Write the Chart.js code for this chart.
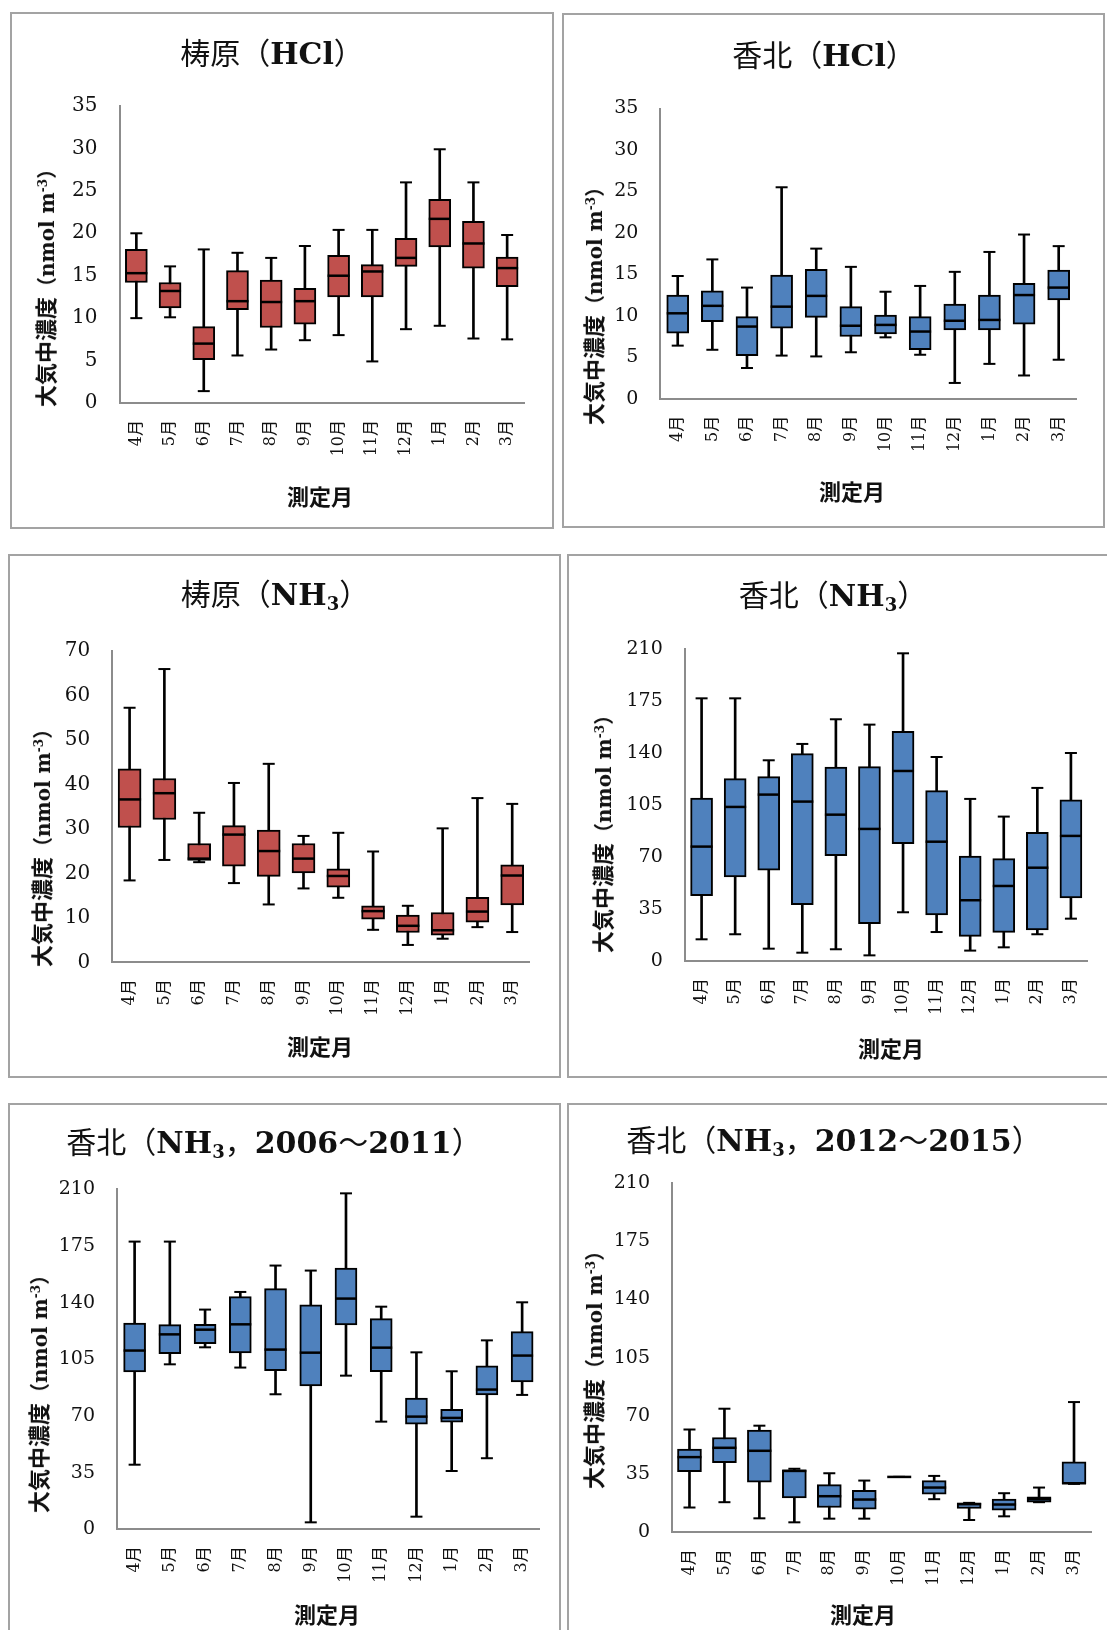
<!DOCTYPE html>
<html>
<head>
<meta charset="utf-8">
<script src="https://cdn.jsdelivr.net/npm/chart.js@4.4.1/dist/chart.umd.min.js"></script>
<style>
  html, body { margin: 0; padding: 0; background: #fff; }
  body { position: relative; width: 1107px; height: 1630px; overflow: hidden; }
  .panel { position: absolute; border: 2px solid #a3a3a3; box-sizing: border-box; }
  .panel canvas { position: absolute; left: 0; top: 0; }
  .lbl { position: absolute; white-space: nowrap; line-height: 1; color: #111; }
  .title { transform: translate(-50%, -50%); font-size: 30px; font-family: "DejaVu Serif", "Noto Sans CJK JP", serif; }
  .title .jp { font-family: "Noto Sans CJK JP"; font-weight: 400; }
  .title b { font-weight: bold; }
  .title sub { font-size: 0.6em; vertical-align: -0.3em; }
  .ytitle { transform: translate(-50%, -50%) rotate(-90deg); font-size: 22px; font-family: "Noto Sans CJK JP"; font-weight: bold; }
  .ytitle .lat { font-family: "DejaVu Serif", "Noto Sans CJK JP", serif; font-size: 20px; }
  .ytitle sup { font-size: 0.6em; vertical-align: 0.6em; }
  .xtitle { transform: translate(-50%, -50%); font-size: 22px; font-family: "Noto Sans CJK JP"; font-weight: bold; }
</style>
</head>
<body>

<div class="panel" style="left:10px;top:12px;width:544px;height:517px"><canvas id="c1"></canvas></div>
<div class="panel" style="left:562px;top:13px;width:543px;height:515px"><canvas id="c2"></canvas></div>
<div class="panel" style="left:8px;top:554px;width:553px;height:524px"><canvas id="c3"></canvas></div>
<div class="panel" style="left:567px;top:554px;width:546px;height:524px"><canvas id="c4"></canvas></div>
<div class="panel" style="left:8px;top:1103px;width:553px;height:537px"><canvas id="c5"></canvas></div>
<div class="panel" style="left:567px;top:1103px;width:546px;height:537px"><canvas id="c6"></canvas></div>

<div class="lbl title" style="left:272px;top:52px"><span class="jp">梼原（</span><b>HCl</b><span class="jp">）</span></div>
<div class="lbl title" style="left:824px;top:54px"><span class="jp">香北（</span><b>HCl</b><span class="jp">）</span></div>
<div class="lbl title" style="left:275px;top:595px"><span class="jp">梼原（</span><b>NH<sub>3</sub></b><span class="jp">）</span></div>
<div class="lbl title" style="left:833px;top:596px"><span class="jp">香北（</span><b>NH<sub>3</sub></b><span class="jp">）</span></div>
<div class="lbl title" style="left:274px;top:1143px"><span class="jp">香北（</span><b>NH<sub>3</sub></b><span class="jp">，</span><b>2006</b><span class="jp">～</span><b>2011</b><span class="jp">）</span></div>
<div class="lbl title" style="left:834px;top:1141px"><span class="jp">香北（</span><b>NH<sub>3</sub></b><span class="jp">，</span><b>2012</b><span class="jp">～</span><b>2015</b><span class="jp">）</span></div>

<div class="lbl ytitle" style="left:45px;top:283px">大気中濃度<span class="lat">（nmol m<sup>-3</sup>）</span></div>
<div class="lbl ytitle" style="left:593px;top:301px">大気中濃度<span class="lat">（nmol m<sup>-3</sup>）</span></div>
<div class="lbl ytitle" style="left:41px;top:843px">大気中濃度<span class="lat">（nmol m<sup>-3</sup>）</span></div>
<div class="lbl ytitle" style="left:602px;top:829px">大気中濃度<span class="lat">（nmol m<sup>-3</sup>）</span></div>
<div class="lbl ytitle" style="left:38px;top:1389px">大気中濃度<span class="lat">（nmol m<sup>-3</sup>）</span></div>
<div class="lbl ytitle" style="left:593px;top:1365px">大気中濃度<span class="lat">（nmol m<sup>-3</sup>）</span></div>

<div class="lbl xtitle" style="left:320px;top:495px">測定月</div>
<div class="lbl xtitle" style="left:852px;top:490px">測定月</div>
<div class="lbl xtitle" style="left:320px;top:1045px">測定月</div>
<div class="lbl xtitle" style="left:891px;top:1047px">測定月</div>
<div class="lbl xtitle" style="left:327px;top:1613px">測定月</div>
<div class="lbl xtitle" style="left:863px;top:1613px">測定月</div>

<script>
const months = ['4月', '5月', '6月', '7月', '8月', '9月', '10月', '11月', '12月', '1月', '2月', '3月'];

// 梼原 HCl
const yusuharaHclMin = [10.0, 10.1, 1.4, 5.6, 6.3, 7.4, 8.0, 4.9, 8.7, 9.1, 7.6, 7.5];
const yusuharaHclQ1  = [14.2, 11.2, 5.1, 11.0, 8.9, 9.3, 12.5, 12.5, 16.1, 18.4, 15.9, 13.7];
const yusuharaHclMed = [15.3, 13.2, 7.0, 12.0, 11.9, 12.0, 15.0, 15.5, 17.1, 21.7, 18.8, 15.9];
const yusuharaHclQ3  = [18.1, 14.2, 9.0, 15.6, 14.5, 13.5, 17.4, 16.3, 19.4, 24.0, 21.4, 17.2];
const yusuharaHclMax = [20.0, 16.1, 18.1, 17.7, 17.1, 18.5, 20.4, 20.4, 26.0, 29.9, 26.0, 19.8];

// 香北 HCl
const kahokuHclMin = [6.4, 5.9, 3.7, 5.2, 5.1, 5.6, 7.4, 5.3, 1.9, 4.2, 2.8, 4.7];
const kahokuHclQ1  = [7.9, 9.3, 5.2, 8.5, 9.8, 7.5, 7.8, 5.9, 8.3, 8.3, 9.0, 11.9];
const kahokuHclMed = [10.3, 11.2, 8.7, 11.1, 12.4, 8.8, 8.9, 8.1, 9.4, 9.5, 12.5, 13.4];
const kahokuHclQ3  = [12.5, 13.0, 9.9, 14.9, 15.6, 11.1, 10.1, 9.9, 11.4, 12.5, 13.9, 15.5];
const kahokuHclMax = [14.8, 16.8, 13.4, 25.5, 18.1, 15.9, 12.9, 13.6, 15.3, 17.7, 19.8, 18.4];

// 梼原 NH3
const yusuharaNh3Min = [18.4, 23.0, 22.5, 17.8, 13.0, 16.6, 14.5, 7.3, 3.9, 5.3, 7.9, 6.8];
const yusuharaNh3Q1  = [30.3, 32.1, 22.9, 21.6, 19.3, 20.1, 16.9, 9.7, 6.7, 6.1, 9.0, 12.9];
const yusuharaNh3Med = [36.6, 38.0, 23.3, 28.7, 25.0, 23.3, 19.4, 11.5, 8.2, 7.2, 11.4, 19.5];
const yusuharaNh3Q3  = [43.5, 41.3, 26.7, 30.7, 29.7, 26.7, 21.0, 12.7, 10.6, 11.2, 14.6, 21.9];
const yusuharaNh3Max = [57.2, 65.9, 33.6, 40.3, 44.6, 28.4, 29.1, 24.9, 12.7, 30.1, 36.9, 35.6];

// 香北 NH3（全期間）
const kahokuNh3Min = [14.8, 18.2, 8.5, 5.8, 8.1, 4.0, 33.0, 19.7, 7.2, 9.4, 18.2, 28.7];
const kahokuNh3Q1  = [44.2, 56.8, 61.3, 38.1, 71.1, 25.4, 79.2, 31.2, 16.8, 19.5, 21.1, 42.6];
const kahokuNh3Med = [77.2, 103.9, 112.2, 107.5, 98.7, 89.1, 128.1, 80.5, 41.1, 50.7, 63.0, 84.4];
const kahokuNh3Q3  = [109.9, 123.0, 124.3, 139.8, 130.8, 131.0, 154.8, 114.9, 70.9, 69.1, 86.8, 108.6];
const kahokuNh3Max = [177.0, 177.0, 135.3, 146.3, 162.9, 159.3, 207.3, 137.5, 109.3, 97.4, 116.7, 140.2];

// 香北 NH3 2006～2011
const kahokuEarlyMin = [39.9, 101.9, 112.4, 99.9, 83.4, 4.3, 94.9, 66.5, 7.8, 36.0, 43.9, 83.0];
const kahokuEarlyQ1  = [97.2, 108.5, 114.7, 108.9, 98.0, 88.5, 126.2, 97.4, 64.9, 66.1, 83.0, 91.0];
const kahokuEarlyMed = [110.4, 120.4, 123.3, 126.6, 111.0, 109.1, 142.5, 112.2, 69.6, 68.8, 86.3, 107.3];
const kahokuEarlyQ3  = [127.4, 126.4, 126.6, 143.7, 148.7, 138.6, 161.4, 130.1, 81.1, 74.1, 100.9, 122.1];
const kahokuEarlyMax = [177.7, 177.7, 135.7, 146.6, 162.9, 159.8, 207.5, 137.5, 109.3, 97.6, 116.7, 140.2];

// 香北 NH3 2012～2015
const kahokuLateMin = [14.9, 18.1, 8.4, 6.0, 8.2, 8.2, 33.3, 19.9, 7.4, 9.6, 18.1, 29.1];
const kahokuLateQ1  = [36.5, 41.8, 30.1, 20.7, 14.9, 13.9, 33.3, 22.9, 14.3, 13.3, 18.1, 29.1];
const kahokuLateMed = [45.2, 50.8, 49.0, 36.9, 21.7, 19.7, 33.3, 26.9, 16.9, 16.7, 19.9, 29.5];
const kahokuLateQ3  = [50.0, 57.0, 61.4, 37.5, 28.7, 25.3, 33.3, 31.1, 17.7, 19.9, 21.3, 42.4];
const kahokuLateMax = [61.8, 74.3, 64.1, 38.2, 35.5, 31.1, 33.3, 33.9, 17.7, 23.5, 26.9, 78.3];

const RED = '#c0504d';
const BLUE = '#4f81bd';
const AXIS_W = 62;   // y軸の幅（目盛ラベル分）
const AXIS_H = 60;   // x軸の高さ（月ラベル分）
const serif = '"DejaVu Serif", "Noto Sans CJK JP", serif';

// 箱ひげ：ひげ→箱→中央値・端の順に重ねる
function boxSets(lo, q1, med, q3, hi, fill, boxW) {
    const tick = { type: 'line', showLine: false, pointStyle: 'line', pointBorderColor: '#000', pointBackgroundColor: '#000', order: 1, clip: false };
    return [
        { type: 'bar', data: lo.map((v, i) => [v, hi[i]]), backgroundColor: '#000', barThickness: 2, grouped: false, order: 3 },
        { type: 'bar', data: q1.map((v, i) => [v, q3[i]]), backgroundColor: fill, borderColor: '#000', borderWidth: 2, borderSkipped: false, barThickness: boxW, grouped: false, order: 2 },
        Object.assign({ data: med, pointRadius: boxW / 2, pointHoverRadius: boxW / 2, pointBorderWidth: 2.5 }, tick),
        Object.assign({ data: hi, pointRadius: 6, pointHoverRadius: 6, pointBorderWidth: 2 }, tick),
        Object.assign({ data: lo, pointRadius: 6, pointHoverRadius: 6, pointBorderWidth: 2 }, tick)
    ];
}

function drawBox(id, panel, plot, sets, yMax, step, tickSize) {
    const canvas = document.getElementById(id);
    const w = panel[2] - 4, h = panel[3] - 4;
    canvas.width = w;
    canvas.height = h;
    const ox = panel[0] + 2, oy = panel[1] + 2;

    new Chart(canvas.getContext('2d'), {
        type: 'bar',
        data: { labels: months, datasets: sets },
        options: {
            responsive: false,
            animation: false,
            events: [],
            layout: {
                padding: {
                    left: plot[0] - ox - AXIS_W,
                    top: plot[1] - oy,
                    right: ox + w - plot[2],
                    bottom: oy + h - plot[3] - AXIS_H
                }
            },
            plugins: { legend: { display: false }, tooltip: { enabled: false } },
            scales: {
                x: {
                    offset: true,
                    grid: { display: false, drawTicks: false },
                    border: { color: '#8c8c8c', width: 2 },
                    ticks: {
                        autoSkip: false, minRotation: 90, maxRotation: 90, padding: 17,
                        color: '#111', font: { family: serif, size: 16 }
                    },
                    afterFit: s => { s.height = AXIS_H; }
                },
                y: {
                    min: 0,
                    max: yMax,
                    grid: { display: false, drawTicks: false },
                    border: { color: '#8c8c8c', width: 2 },
                    ticks: { stepSize: step, padding: 22, color: '#111', font: { family: serif, size: tickSize } },
                    afterFit: s => { s.width = AXIS_W; }
                }
            }
        }
    });
}

drawBox('c1', [10, 12, 544, 517], [119.5, 106, 524, 403],
    boxSets(yusuharaHclMin, yusuharaHclQ1, yusuharaHclMed, yusuharaHclQ3, yusuharaHclMax, RED, 22), 35, 5, 20);
drawBox('c2', [562, 13, 543, 515], [660.4, 108.5, 1076, 398.7],
    boxSets(kahokuHclMin, kahokuHclQ1, kahokuHclMed, kahokuHclQ3, kahokuHclMax, BLUE, 22), 35, 5, 19);
drawBox('c3', [8, 554, 553, 524], [112.2, 650.8, 529.6, 962.3],
    boxSets(yusuharaNh3Min, yusuharaNh3Q1, yusuharaNh3Med, yusuharaNh3Q3, yusuharaNh3Max, RED, 23), 70, 10, 20);
drawBox('c4', [567, 554, 546, 524], [684.8, 649.3, 1087.7, 961.3],
    boxSets(kahokuNh3Min, kahokuNh3Q1, kahokuNh3Med, kahokuNh3Q3, kahokuNh3Max, BLUE, 22), 210, 35, 19);
drawBox('c5', [8, 1103, 553, 537], [117, 1189.3, 543, 1529.3],
    boxSets(kahokuEarlyMin, kahokuEarlyQ1, kahokuEarlyMed, kahokuEarlyQ3, kahokuEarlyMax, BLUE, 22), 210, 35, 19);
drawBox('c6', [567, 1103, 546, 537], [672, 1183, 1092, 1532.3],
    boxSets(kahokuLateMin, kahokuLateQ1, kahokuLateMed, kahokuLateQ3, kahokuLateMax, BLUE, 24), 210, 35, 19);
</script>
</body>
</html>
